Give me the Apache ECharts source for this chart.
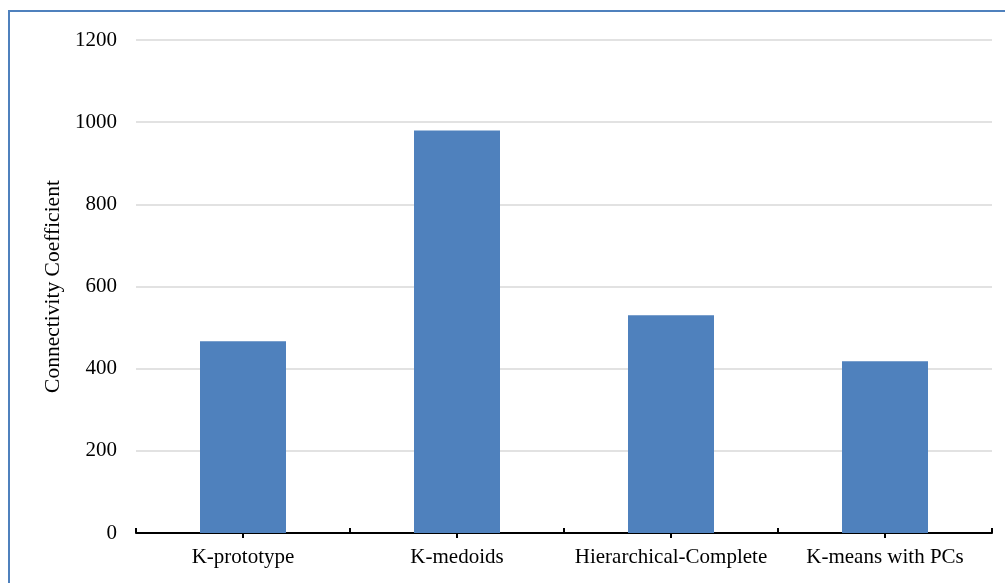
<!DOCTYPE html>
<html>
<head>
<meta charset="utf-8">
<script src="https://cdn.jsdelivr.net/npm/echarts@6/dist/echarts.min.js"></script>
<style>
html,body{margin:0;padding:0;background:#fff;}
#chart{width:1005px;height:583px;}
</style>
</head>
<body>
<div id="chart"></div>
<script>
const categories = ['K-prototype', 'K-medoids', 'Hierarchical-Complete', 'K-means with PCs'];
const values = [467, 980, 530, 418];
const yTicks = { min: 0, max: 1200, interval: 200 };
const yAxisName = 'Connectivity Coefficient';

const FONT = '"Liberation Serif", "Times New Roman", serif';
const chart = echarts.init(document.getElementById('chart'), null, { renderer: 'canvas' });
chart.setOption({
  animation: false,
  backgroundColor: '#fff',
  graphic: [{
    type: 'rect',
    shape: { x: 9, y: 11, width: 1200, height: 800 },
    style: { fill: 'none', stroke: '#4f81bd', lineWidth: 2 },
    silent: true
  }],
  grid: { left: 136, right: 13, top: 40, bottom: 50, containLabel: false },
  xAxis: [{
    type: 'category',
    data: categories,
    axisLine: { lineStyle: { color: '#000', width: 2 } },
    axisTick: { show: true, inside: true, length: 5, interval: 0, alignWithLabel: false, lineStyle: { color: '#000', width: 2 } },
    axisLabel: { color: '#000', fontFamily: FONT, fontSize: 21, margin: 14, interval: 0 },
    splitLine: { show: false }
  }, {
    type: 'category',
    data: categories,
    position: 'bottom',
    axisLine: { show: false },
    axisTick: { show: true, inside: false, length: 5, interval: 0, alignWithLabel: true, lineStyle: { color: '#000', width: 2 } },
    axisLabel: { show: false },
    splitLine: { show: false }
  }],
  yAxis: {
    type: 'value',
    min: yTicks.min, max: yTicks.max, interval: yTicks.interval,
    name: yAxisName,
    nameLocation: 'middle',
    nameGap: 68,
    nameTextStyle: { color: '#000', fontFamily: FONT, fontSize: 21.5 },
    axisLine: { show: false },
    axisTick: { show: false },
    axisLabel: { color: '#000', fontFamily: FONT, fontSize: 21, margin: 19, formatter: v => String(v) },
    splitLine: { lineStyle: { color: '#d9d9d9', width: 1.5 } }
  },
  series: [{
    type: 'bar',
    data: values,
    barWidth: 86,
    itemStyle: { color: '#4f81bd' }
  }]
});
</script>
</body>
</html>
